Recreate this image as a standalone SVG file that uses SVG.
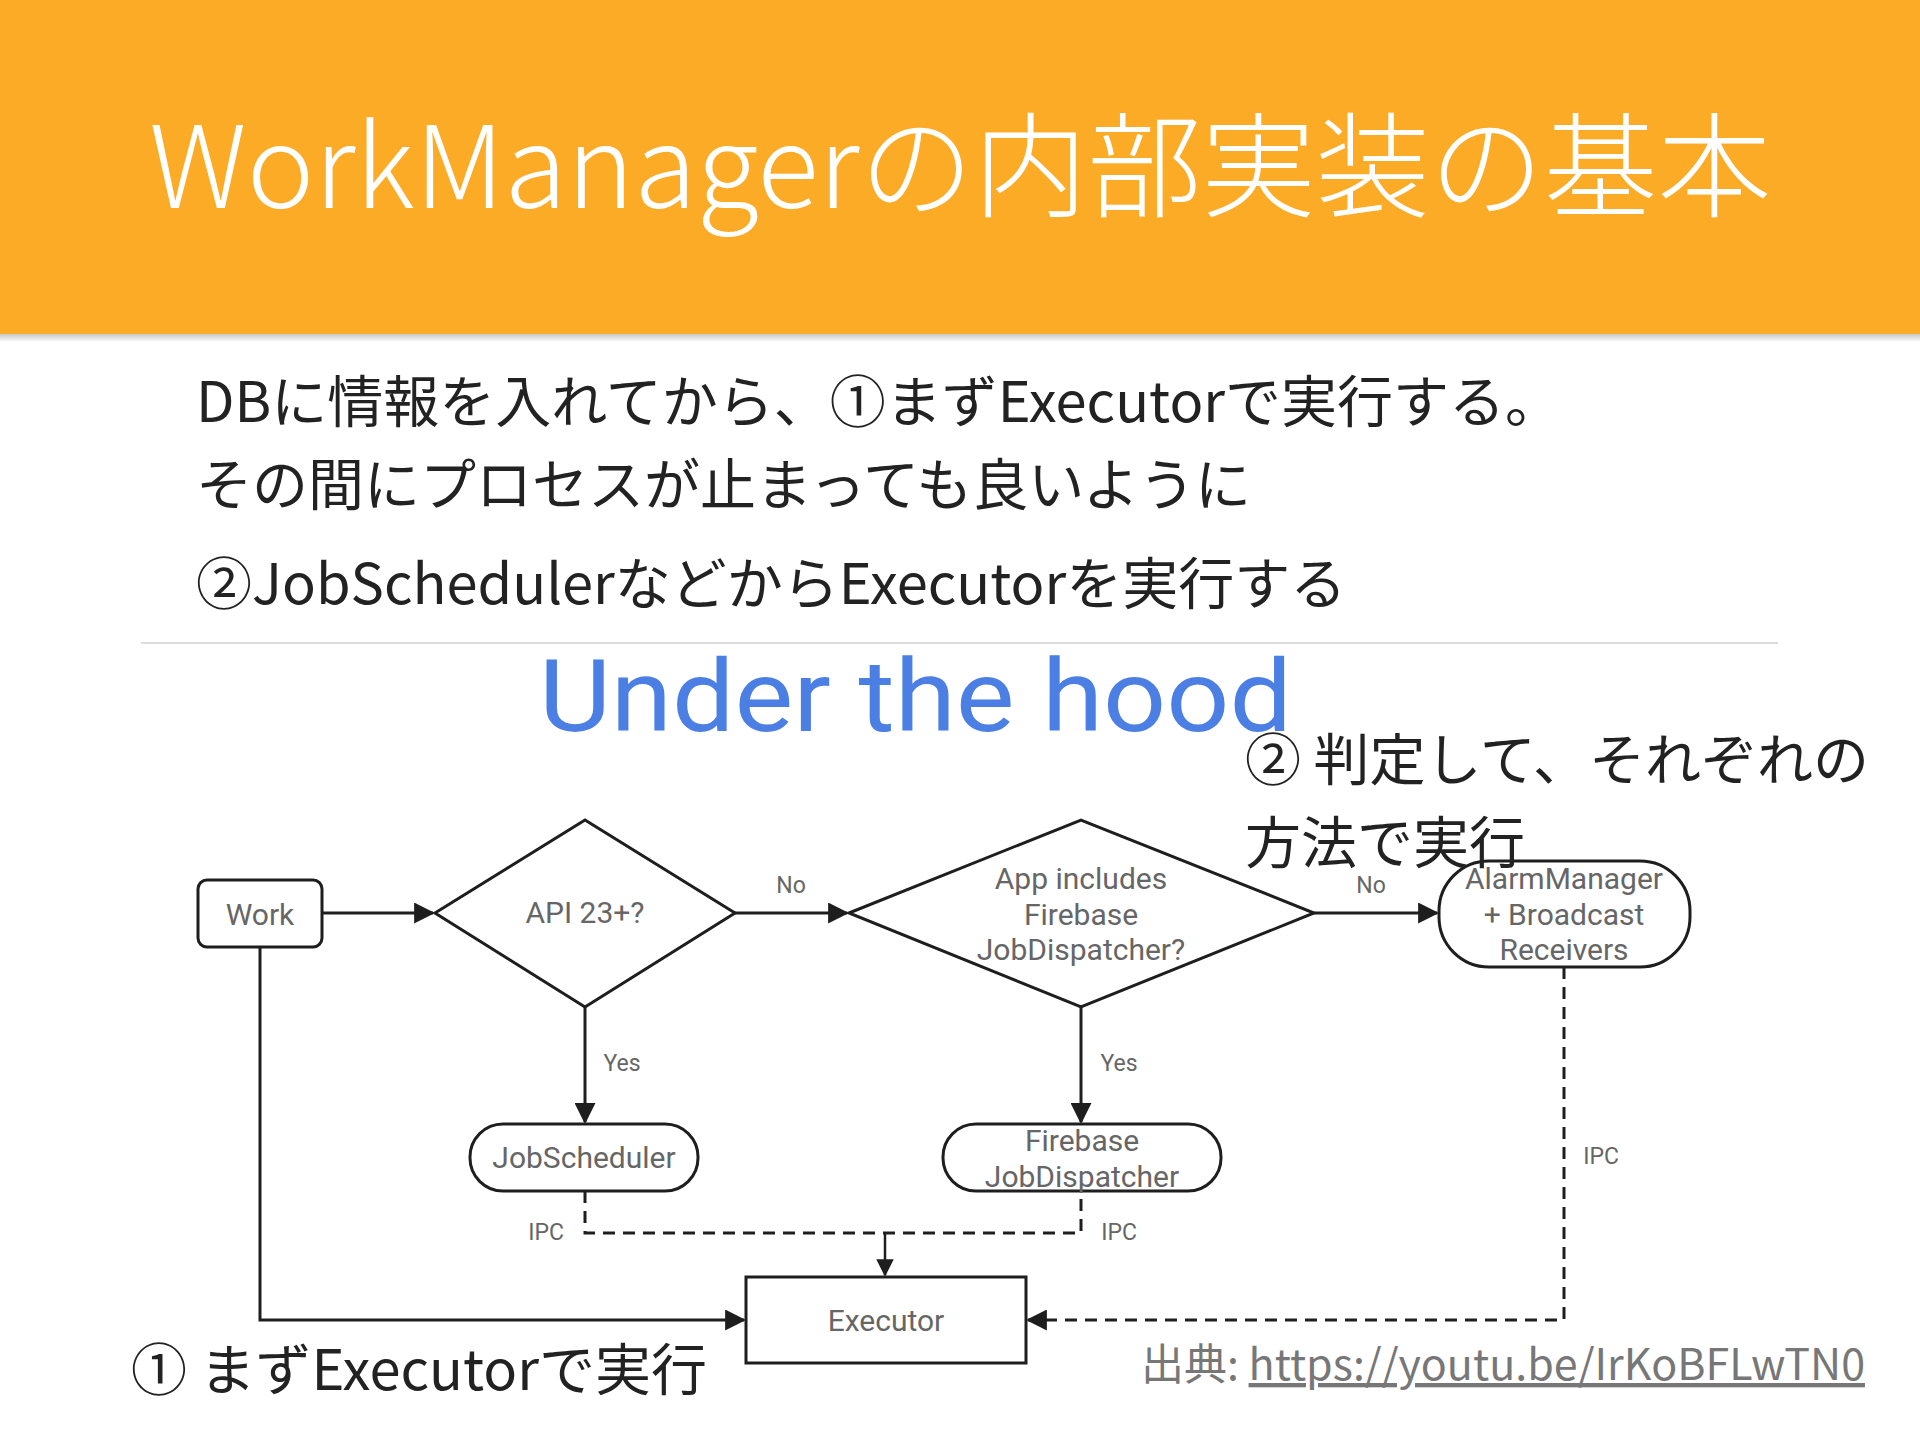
<svg xmlns="http://www.w3.org/2000/svg" width="1920" height="1440" viewBox="0 0 1920 1440">
<defs>
<linearGradient id="shadow" x1="0" y1="0" x2="0" y2="1">
<stop offset="0" stop-color="#000" stop-opacity="0.22"/>
<stop offset="1" stop-color="#000" stop-opacity="0"/>
</linearGradient>
<marker id="arrb" viewBox="0 0 10 10" refX="9" refY="5" markerWidth="7" markerHeight="7" orient="auto">
<path d="M0,0 L10,5 L0,10 z" fill="#1e1e1e"/>
</marker>
</defs>
<style>
.jp{font-family:"Noto Sans CJK JP","Noto Sans",sans-serif;}
.body{font-size:56px;fill:#222;}
.shape{fill:none;stroke:#1e1e1e;stroke-width:3;}
.line{fill:none;stroke:#1e1e1e;stroke-width:3;}
.dash{fill:none;stroke:#1e1e1e;stroke-width:3;stroke-dasharray:12 8;}
.lbl{font-family:Roboto,"Open Sans",sans-serif;fill:#666;text-anchor:middle;}
.nl{font-size:30px;}
.sl{font-size:23px;}
</style>
<rect width="1920" height="1440" fill="#ffffff"/>
<rect x="0" y="0" width="1920" height="334" fill="#FBAB26"/>
<rect x="0" y="334" width="1920" height="8" fill="url(#shadow)"/>
<text class="jp" x="149" y="208" font-size="114" font-weight="300" fill="#ffffff">WorkManagerの内部実装の基本</text>

<text class="jp body" x="196" y="422">DBに情報を入れてから、①まずExecutorで実行する。</text>
<text class="jp body" x="196" y="505">その間にプロセスが止まっても良いように</text>
<text class="jp body" x="196" y="604">②JobSchedulerなどからExecutorを実行する</text>
<line x1="141" y1="643" x2="1778" y2="643" stroke="#dcdcdc" stroke-width="2"/>

<text x="539" y="731" font-family="Roboto,'Open Sans',sans-serif" font-size="101" font-weight="400" fill="#4C7FE3" textLength="753" lengthAdjust="spacingAndGlyphs">Under the hood</text>

<g id="connectors">
<line class="line" x1="322" y1="913" x2="433" y2="913" marker-end="url(#arrb)"/>
<line class="line" x1="735" y1="913" x2="847" y2="913" marker-end="url(#arrb)"/>
<line class="line" x1="1314" y1="913" x2="1437" y2="913" marker-end="url(#arrb)"/>
<line class="line" x1="585" y1="1007" x2="585" y2="1122" marker-end="url(#arrb)"/>
<line class="line" x1="1081" y1="1007" x2="1081" y2="1122" marker-end="url(#arrb)"/>
<polyline class="line" points="260,947 260,1320 744,1320" marker-end="url(#arrb)"/>
<polyline class="dash" points="585,1191 585,1233 1081,1233 1081,1191"/>
<line x1="885" y1="1233" x2="885" y2="1275" stroke="#1e1e1e" stroke-width="2.5" marker-end="url(#arrb)"/>
<polyline class="dash" points="1564,967 1564,1320 1028,1320" marker-end="url(#arrb)"/>
<text class="lbl sl" x="791" y="893">No</text>
<text class="lbl sl" x="1371" y="893">No</text>
<text class="lbl sl" x="622" y="1071">Yes</text>
<text class="lbl sl" x="1119" y="1071">Yes</text>
<text class="lbl sl" x="546" y="1240">IPC</text>
<text class="lbl sl" x="1119" y="1240">IPC</text>
<text class="lbl sl" x="1601" y="1164">IPC</text>
</g>

<g id="work">
<rect class="shape" x="198" y="880" width="124" height="67" rx="9"/>
<text class="lbl nl" x="260" y="925">Work</text>
</g>
<g id="api23">
<polygon class="shape" points="435,913 585,820 735,913 585,1007"/>
<text class="lbl nl" x="585" y="923">API 23+?</text>
</g>
<g id="firebase-check">
<polygon class="shape" points="849,913 1081,820 1314,913 1081,1007"/>
<text class="lbl nl" x="1081" y="889">App includes</text>
<text class="lbl nl" x="1081" y="925">Firebase</text>
<text class="lbl nl" x="1081" y="960">JobDispatcher?</text>
</g>
<g id="alarm">
<rect class="shape" x="1439" y="861" width="251" height="106" rx="50"/>
<text class="lbl nl" x="1564" y="889">AlarmManager</text>
<text class="lbl nl" x="1564" y="925">+ Broadcast</text>
<text class="lbl nl" x="1564" y="960">Receivers</text>
</g>
<g id="jobscheduler">
<rect class="shape" x="470" y="1124" width="228" height="67" rx="33"/>
<text class="lbl nl" x="584" y="1168">JobScheduler</text>
</g>
<g id="fjd">
<rect class="shape" x="943" y="1124" width="278" height="67" rx="33"/>
<text class="lbl nl" x="1082" y="1151">Firebase</text>
<text class="lbl nl" x="1082" y="1187">JobDispatcher</text>
</g>
<g id="executor">
<rect class="shape" x="746" y="1277" width="280" height="86"/>
<text class="lbl nl" x="886" y="1331">Executor</text>
</g>

<text class="jp" x="1245" y="780" font-size="56" fill="#222">② 判定して、それぞれの</text>
<text class="jp" x="1245" y="863" font-size="56" fill="#222">方法で実行</text>
<text class="jp" x="131" y="1390" font-size="56" fill="#222">① まずExecutorで実行</text>
<text class="jp" x="1865" y="1380" font-size="43" fill="#777" text-anchor="end">出典: <tspan text-decoration="underline">https://youtu.be/IrKoBFLwTN0</tspan></text>
</svg>
